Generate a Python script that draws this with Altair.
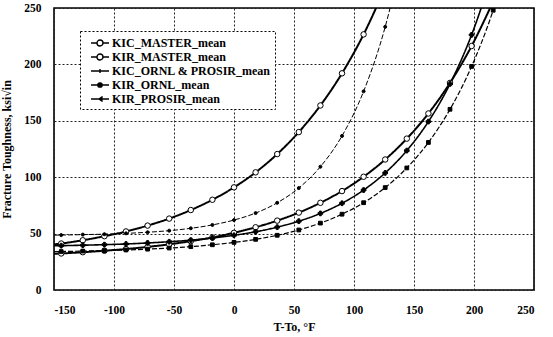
import altair as alt
import pandas as pd

T_F = [-150, -144, -126, -108, -90, -72, -54, -36, -18, 0, 18, 36, 54, 72, 90,
       108, 126, 144, 162, 180, 198, 216, 234]

KIC_MASTER = [40.4, 41.2, 44.1, 47.7, 51.9, 57.1, 63.3, 70.9, 80.0, 91.0, 104.3, 120.5,
              140.0, 163.6, 192.1, 226.6, 268.3, None, None, None, None, None, None]
KIR_MASTER = [32.1, 32.4, 33.5, 34.8, 36.3, 38.2, 40.5, 43.3, 46.6, 50.7, 55.6, 61.5,
              68.6, 77.3, 87.7, 100.4, 115.7, 134.2, 156.5, 183.6, 216.3, 255.9, None]
KIC_ORNL_PROSIR = [48.6, 48.7, 49.1, 49.5, 50.2, 51.2, 52.6, 54.7, 57.7, 62.0, 68.2, 77.3,
                   90.4, 109.3, 136.6, 176.1, 233.3, 316.0, None, None, None, None, None]
KIR_ORNL = [34.0, 34.1, 34.5, 34.9, 35.5, 36.2, 37.2, 38.4, 40.1, 42.2, 44.9, 48.5,
            53.2, 59.3, 67.2, 77.4, 90.8, 108.2, 130.8, 160.2, 198.2, 248.0, 312.7]
KIR_PROSIR = [39.2, 39.3, 39.7, 40.2, 40.8, 41.7, 42.8, 44.2, 46.1, 48.5, 51.6, 55.7,
              61.0, 67.9, 76.9, 88.6, 103.8, 123.6, 149.3, 182.7, 226.2, 282.7, None]

SERIES = ["KIC_MASTER_mean", "KIR_MASTER_mean", "KIC_ORNL & PROSIR_mean",
          "KIR_ORNL_mean", "KIR_PROSIR_mean"]
VALUES = [KIC_MASTER, KIR_MASTER, KIC_ORNL_PROSIR, KIR_ORNL, KIR_PROSIR]

X_TICKS = [-150, -100, -50, 0, 50, 100, 150, 200, 250]
Y_TICKS = [0, 50, 100, 150, 200, 250]

rows = []
for name, vals in zip(SERIES, VALUES):
    for t, k in zip(T_F, vals):
        if k is not None:
            rows.append({"series": name, "T": t, "K": k, "marker": t != -150})
df = pd.DataFrame(rows)

STYLES = {
    "KIC_MASTER_mean": dict(sw=2.0, dash=[1, 0], shape="circle", fill="white", size=30),
    "KIR_MASTER_mean": dict(sw=2.0, dash=[1, 0], shape="circle", fill="white", size=30),
    "KIC_ORNL & PROSIR_mean": dict(sw=1.0, dash=[5, 2], shape="circle", fill="black", size=9),
    "KIR_ORNL_mean": dict(sw=1.2, dash=[5, 2], shape="square", fill="black", size=14),
    "KIR_PROSIR_mean": dict(sw=1.6, dash=[1, 0], shape="cross", fill="black", size=22),
}

FONT = "Liberation Serif"

x_enc = alt.X("T:Q", scale=alt.Scale(domain=[-150, 250], nice=False, zero=False),
              axis=alt.Axis(values=X_TICKS, title="T-To, °F",
                            labelExpr="toString(datum.value)"))
y_enc = alt.Y("K:Q", scale=alt.Scale(domain=[0, 250], nice=False),
              axis=alt.Axis(values=Y_TICKS, title="Fracture Toughness, ksi√in",
                            labelExpr="toString(datum.value)"))

base = alt.Chart(df)
layers = []
for name in SERIES:
    st = STYLES[name]
    layers.append(
        base.transform_filter(alt.datum.series == name)
        .mark_line(color="black", strokeWidth=st["sw"], strokeDash=st["dash"],
                   interpolate="monotone", clip=True)
        .encode(x=x_enc, y=y_enc)
    )
for name in SERIES:
    st = STYLES[name]
    layers.append(
        base.transform_filter((alt.datum.series == name) & alt.datum.marker)
        .mark_point(shape=st["shape"], filled=True, fill=st["fill"], stroke="black",
                    strokeWidth=1, size=st["size"], opacity=1, clip=True)
        .encode(x=x_enc, y=y_enc)
    )

# legend glyphs: line with marker, offset to the right of the symbol slot
LEG_PATHS = [
    "M-0.14,0H0.71M1.57,0H2.43M0.71,0A0.43,0.43 0 1,1 1.57,0A0.43,0.43 0 1,1 0.71,0Z",
    "M-0.14,0H0.71M1.57,0H2.43M0.71,0A0.43,0.43 0 1,1 1.57,0A0.43,0.43 0 1,1 0.71,0Z",
    "M-0.14,0H2.43M1.14,-0.3V0.3",
    "M-0.14,0H0.83M1.45,0H2.43M0.83,0A0.31,0.31 0 1,1 1.45,0A0.31,0.31 0 1,1 0.83,0Z",
    "M-0.14,0H2.43M1.5,-0.35L1.0,0L1.5,0.35",
]
LEG_FILLS = ["white", "white", "black", "black", "black"]
LEG_STROKES = ["black"] * 5


def leg():
    return alt.Legend(title=None, orient="none", legendX=26, legendY=23,
                      symbolOpacity=1, symbolStrokeColor="black", symbolStrokeWidth=1.4)


legend_layer = (
    base.transform_filter("false")
    .mark_point(filled=True, opacity=1, strokeWidth=1.4)
    .encode(
        x=x_enc, y=y_enc,
        shape=alt.Shape("series:N", scale=alt.Scale(domain=SERIES, range=LEG_PATHS), legend=leg()),
        fill=alt.Fill("series:N", scale=alt.Scale(domain=SERIES, range=LEG_FILLS), legend=leg()),
        stroke=alt.Stroke("series:N", scale=alt.Scale(domain=SERIES, range=LEG_STROKES), legend=leg()),
    )
)
layers.append(legend_layer)

chart = (
    alt.layer(*layers)
    .properties(width=480, height=282,
                autosize=alt.AutoSizeParams(type="none"),
                padding={"left": 54, "top": 8, "right": 19, "bottom": 47},
                background="white")
    .configure_view(stroke="black", strokeWidth=1.6)
    .configure_axis(
        domain=False, ticks=False, grid=True, gridColor="#222", gridDash=[2, 2],
        gridWidth=1, gridOpacity=1,
        labelFont=FONT, labelFontWeight="bold", labelFontSize=11.5, labelColor="black",
        titleFont=FONT, titleFontWeight="bold", titleFontSize=12, titleColor="black",
    )
    .configure_axisX(labelPadding=14, titlePadding=6)
    .configure_axisY(labelPadding=13, titlePadding=10)
    .configure_legend(
        labelFont=FONT, labelFontWeight="bold", labelFontSize=12, labelColor="black",
        labelLimit=0, symbolSize=196, symbolStrokeColor="black", symbolStrokeWidth=1.4,
        strokeColor="black", strokeDash=[2, 2], fillColor="white", padding=4,
        rowPadding=0, labelOffset=12, cornerRadius=0,
    )
)

chart.save("out.html", embed_options={"renderer": "svg", "actions": False})
